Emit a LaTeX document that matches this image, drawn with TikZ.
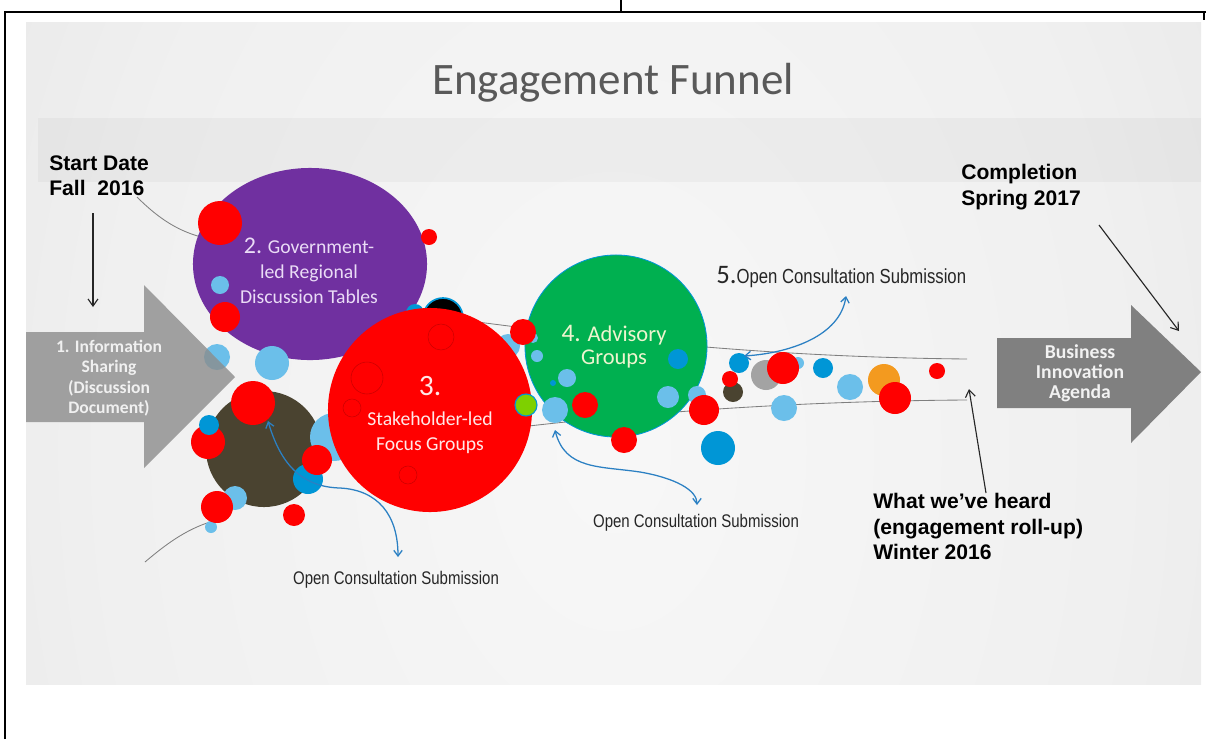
\documentclass[tikz,border=0pt]{standalone}
\usepackage{fontspec}
\setmainfont{Liberation Sans}
\newfontfamily\carlito{Carlito}
\newfontfamily\narrowsans[FakeStretch=0.82]{Liberation Sans}
\usetikzlibrary{arrows.meta,shapes.geometric}

\definecolor{govpurple}{HTML}{7030A0}
\definecolor{focusred}{HTML}{FF0000}
\definecolor{advgreen}{HTML}{00B050}
\definecolor{olive}{HTML}{4A4330}
\definecolor{dotblue}{HTML}{0096D6}
\definecolor{dotsky}{HTML}{6BBFEA}
\definecolor{dotgray}{HTML}{A3A3A3}
\definecolor{dotorange}{HTML}{F39A1F}
\definecolor{dotlime}{HTML}{7ED000}
\definecolor{linkblue}{HTML}{2B80C3}
\definecolor{titlegray}{HTML}{595959}
\definecolor{funnelgray}{HTML}{7F7F7F}
\definecolor{govtextcol}{HTML}{EADCF6}
\definecolor{focustextcol}{HTML}{FFE8E8}
\definecolor{advtextcol}{HTML}{EEF5CF}

\pgfdeclareradialshading{slideshade}{\pgfpoint{0bp}{0bp}}{%
  color(0bp)=(white!97!black); color(22bp)=(white!94!black);
  color(50bp)=(white!86!black); color(75bp)=(white!82!black)}

\tikzset{
  bubble/.style={inner sep=0pt, outer sep=0pt},
  bubbletext/.style={inner sep=0pt, align=center, font=\carlito\fontsize{14}{17.8}\selectfont},
  arrowtext/.style={inner sep=0pt, align=center},
  blockarrow/.style={fill opacity=0.8},
  datelabel/.style={inner sep=0pt, align=left, font=\bfseries\fontsize{15}{18.2}\selectfont},
  submission/.style={inner sep=0pt, text=black!85, font=\narrowsans\fontsize{13}{15}\selectfont},
  funnel/.style={draw=funnelgray, line width=0.6pt},
  note/.style={draw=black!85, line width=0.8pt, >={Straight Barb[length=5pt,width=7pt]}, ->},
  link/.style={draw=linkblue, line width=0.9pt, >={Straight Barb[length=4pt,width=6pt]}, <->},
  ring/.style={draw=red!80!black, line width=0.4pt},
}

\begin{document}
\begin{tikzpicture}[x=0.025cm, y=-0.025cm]
\useasboundingbox (0,0) rectangle (1206,739);

% page frame
\draw[line width=0.9pt] (5,739) -- (5,12) -- (1206,12);
\draw[line width=0.9pt] (621,0) -- (621,12);
\draw[line width=0.9pt] (1204,12) -- (1204,20);

% slide with header band
\begin{scope}
\clip (26,22) rectangle (1201,684);
\shade[shading=slideshade] (26,-400) rectangle (1201,1300);
\fill[black, opacity=0.03] (38,118) rectangle (1201,182);
\end{scope}

\node (title) [font=\carlito\fontsize{32}{36}\selectfont, text=titlegray] at (613,83) {Engagement Funnel};

% funnel outline
\draw[funnel] (470,321) .. controls (600,338) and (760,357) .. (967,359);
\draw[funnel] (520,427) .. controls (650,412) and (800,401) .. (967,400);
\draw[funnel] (137,197) .. controls (160,220) and (180,232) .. (205,238);
\draw[funnel] (145,562) .. controls (165,545) and (185,530) .. (210,522);

% the groups
\node (gov) [bubble, ellipse, fill=govpurple, minimum width=5.85cm, minimum height=4.8cm] at (310,264) {};
\fill[dotblue] (415,313) circle (9);
\filldraw[fill=black, draw=dotblue, line width=1.2pt] (443,318) circle (20);
\node (round) [bubble, circle, fill=olive, minimum size=2.9cm] at (264,449) {};
\fill[dotsky] (334,437) circle (24);
\fill[dotsky] (508,346) circle (12);
\node (focus) [bubble, circle, fill=focusred, minimum size=5.1cm] at (430,410) {};
\foreach \x/\y/\r in {441/337/13, 367/378/16, 352/408/9, 408/475/9}
  \draw[ring] (\x,\y) circle (\r);
\node (advisory) [bubble, circle, fill=advgreen, draw=dotblue, line width=0.6pt, minimum size=4.55cm] at (616,346) {};

% submissions
\foreach \x/\y/\r in {220/285/9, 217/357/13, 272/363/17, 235/498/12, 211/527/6,
    537/356/6, 533/338/5, 567/378/9, 555/410/13, 668/397/11, 697/395/9,
    798/363/6, 850/387/13, 784/408/13}
  \fill[dotsky] (\x,\y) circle (\r);
\foreach \x/\y/\r in {308/479/15, 553/383/3, 678/359/10, 739/363/10, 823/368/10, 718/448/17}
  \fill[dotblue] (\x,\y) circle (\r);
\fill[olive] (733,392) circle (10);
\fill[dotgray] (766,375) circle (15);
\fill[dotorange] (884,380) circle (16);
\foreach \x/\y/\r in {220/223/22, 225/317/15, 429/237/8, 253/403/22, 208/442/17,
    317/460/15, 217/507/16, 294/515/11, 523/332/13, 585/405/13, 624/440/13,
    704/410/15, 730/379/8, 783/368/16, 895/398/16, 937/371/8}
  \fill[focusred] (\x,\y) circle (\r);
\fill[dotblue] (209,425) circle (10);
\filldraw[fill=dotlime, draw=dotblue, line width=0.8pt] (526,405) circle (11);

\node (govtext) [bubbletext, text=govtextcol] at (309,271) {{\fontsize{17}{17}\selectfont 2.} Government-\\led Regional\\Discussion Tables};
\node (focustext) [bubbletext, text=focustextcol] at (430,415) {{\fontsize{21}{21}\selectfont 3.}\\[3pt]Stakeholder-led\\Focus Groups};
\node (advtext) [bubbletext, text=advtextcol, font=\carlito\fontsize{16}{16.4}\selectfont] at (614,347) {{\fontsize{18}{18}\selectfont 4.} Advisory\\Groups};

% start and end arrows
\fill[black!45, blockarrow] (26,332) -- (144,332) -- (144,285) -- (235,377) -- (144,468) -- (144,422) -- (26,422) -- cycle;
\node (info) [arrowtext, text=gray!12, font=\carlito\bfseries\fontsize{12.5}{14.6}\selectfont] at (109,378) {1. Information\\Sharing\\(Discussion\\Document)};
\fill[black!50] (997,338) -- (1131,338) -- (1131,305) -- (1201,372) -- (1131,443) -- (1131,408) -- (997,408) -- cycle;
\node (agenda) [arrowtext, text=white!95!black, font=\carlito\bfseries\fontsize{14}{14.2}\selectfont] at (1080,373) {Business\\Innovation\\Agenda};

% dates
\node (startlbl) [datelabel, anchor=north west] at (49,155) {Start Date\\Fall\ \ 2016};
\node (donelbl) [datelabel, anchor=north west] at (961,164) {Completion\\Spring 2017};
\node (heardlbl) [datelabel, anchor=north west] at (873,493) {What we’ve heard\\(engagement roll-up)\\Winter 2016};

\coordinate (startfrom) at (93,213);
\coordinate (startto) at (93,307);
\coordinate (donefrom) at (1099,225);
\coordinate (doneto) at (1179,331);
\coordinate (heardfrom) at (986,493);
\coordinate (heardto) at (969,389);
\draw[note] (startfrom) -- (startto);
\draw[note] (donefrom) -- (doneto);
\draw[note] (heardfrom) -- (heardto);

% open consultation
\node (subA) [submission] at (396,580) {Open Consultation Submission};
\node (subB) [submission] at (696,523) {Open Consultation Submission};
\node (subC) [submission, anchor=west, font=\narrowsans\fontsize{14.5}{16}\selectfont] at (716,277) {{\carlito\fontsize{19}{19}\selectfont 5.}Open Consultation Submission};

\coordinate (linkAup) at (268,421);
\coordinate (linkAdown) at (398,557);
\coordinate (linkBup) at (555,430);
\coordinate (linkBdown) at (697,505);
\coordinate (linkCleft) at (744,356);
\coordinate (linkCup) at (846,296);
\draw[link] (linkAup) .. controls (280,462) and (300,487) .. (340,488) .. controls (378,490) and (398,515) .. (linkAdown);
\draw[link] (linkBup) .. controls (565,470) and (600,466) .. (640,472) .. controls (675,478) and (697,490) .. (linkBdown);
\draw[link] (linkCleft) .. controls (790,353) and (840,336) .. (linkCup);
\end{tikzpicture}
\end{document}
